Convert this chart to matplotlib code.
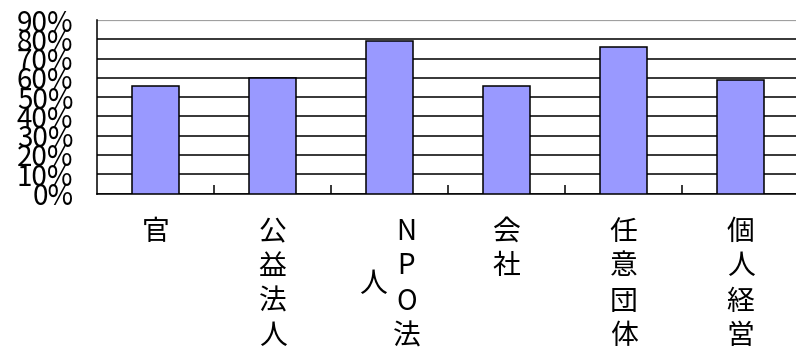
import matplotlib
matplotlib.use("Agg")
import matplotlib.pyplot as plt
import numpy as np

plt.rcParams['font.family'] = ['Noto Sans CJK JP', 'DejaVu Sans']

# Data
categories = ["官", "公益法人", "NPO法人", "会社", "任意団体", "個人経営"]
values = [56, 60, 79, 56, 76, 59]
yticks = list(range(0, 91, 10))
ytick_labels = [f"{v}%" for v in yticks]

W, H = 796, 353
fig = plt.figure(figsize=(W / 100, H / 100), dpi=100)
fig.patch.set_facecolor("white")

left_px, right_px, top_px, bottom_px = 97, 799, 20, 193.5
ax = fig.add_axes([left_px / W, (H - bottom_px) / H,
                   (right_px - left_px) / W, (bottom_px - top_px) / H])

x = np.arange(len(categories))
ax.bar(x, values, width=0.4, color="#9999ff", edgecolor="black",
       linewidth=1.1, zorder=3)

ax.set_xlim(-0.5, len(categories) - 0.5)
ax.set_ylim(0, 90)

# horizontal gridlines, the top one in grey
ax.set_yticks(yticks)
ax.set_yticklabels(ytick_labels, fontsize=20)
ax.tick_params(axis="y", length=0, pad=17)
ax.yaxis.grid(True, color="black", linewidth=1.1, zorder=1)
ax.set_axisbelow(True)
ax.yaxis.get_gridlines()[-1].set_color("#a0a0a0")
ax.yaxis.get_gridlines()[-1].set_linewidth(1.6)

# category separators on the baseline
ax.set_xticks(x)
ax.set_xticklabels([])
ax.tick_params(axis="x", which="major", length=0)
ax.set_xticks(x[:-1] + 0.5, minor=True)
ax.tick_params(axis="x", which="minor", direction="in", length=6.5,
               width=1.1, color="black")

for side in ("top", "right"):
    ax.spines[side].set_visible(False)
for side in ("left", "bottom"):
    ax.spines[side].set_color("black")
    ax.spines[side].set_linewidth(1.1)

# vertical category labels: columns of up to 4 characters, right to left
row_start, row_step, col_step, per_col = 38, 35, 34, 4
for i, label in enumerate(categories):
    cols = [label[k:k + per_col] for k in range(0, len(label), per_col)]
    ncols = len(cols)
    first_len = len(cols[0])
    for c, col in enumerate(cols):
        dx = ((ncols - 1) / 2 - c) * col_step
        shift = (first_len - len(col)) * row_step / 2
        for r, ch in enumerate(col):
            dy = -(row_start + shift + r * row_step)
            ax.annotate(ch, xy=(i, 0), xycoords=("data", "axes fraction"),
                        xytext=(dx, dy), textcoords="offset pixels",
                        ha="center", va="center", fontsize=20,
                        annotation_clip=False)

fig.savefig("out.png", dpi=100, facecolor="white")
